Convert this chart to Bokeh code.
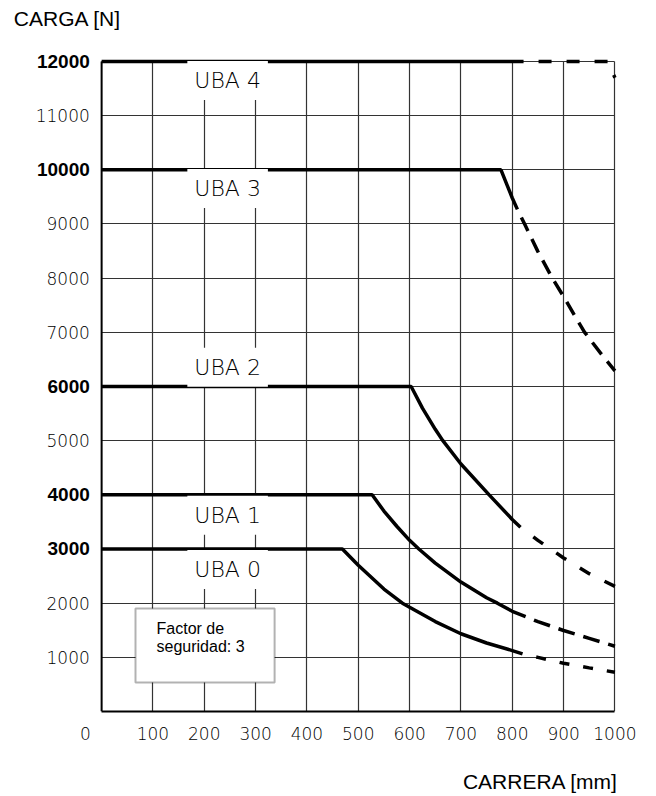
from bokeh.plotting import figure
from bokeh.models import (Range1d, FixedTicker, Label, LabelSet, BoxAnnotation, LinearAxis,
                          ColumnDataSource)
from bokeh.core.properties import value
from bokeh.embed import file_html
from bokeh.resources import INLINE

# ---- data: stroke (mm) vs. permissible load (N) -------------------------
stroke_ticks = [100, 200, 300, 400, 500, 600, 700, 800, 900, 1000]
load_ticks_regular = [1000, 2000, 5000, 7000, 8000, 9000, 11000]
load_ticks_bold = [3000, 4000, 6000, 10000, 12000]
load_grid = [1000, 2000, 3000, 4000, 5000, 6000, 7000, 8000, 9000, 10000, 11000, 12000]

uba_names = ["UBA 0", "UBA 1", "UBA 2", "UBA 3", "UBA 4"]

# solid part of each curve
uba0_x = [0, 469, 500, 550, 586, 600, 650, 700, 750, 800, 820]
uba0_y = [3000, 3000, 2700, 2260, 2000, 1925, 1660, 1435, 1265, 1125, 1065]
uba1_x = [0, 527, 550, 575, 600, 618, 650, 700, 750, 771, 800, 826]
uba1_y = [4000, 4000, 3700, 3420, 3160, 3000, 2740, 2390, 2100, 2000, 1850, 1750]
uba2_x = [0, 603, 625, 650, 664, 700, 755, 800, 816]
uba2_y = [6000, 6000, 5600, 5210, 5010, 4570, 4000, 3545, 3400]
uba3_x = [0, 778, 800, 810]
uba3_y = [10000, 10000, 9480, 9270]
uba4_x = [0, 822]
uba4_y = [12000, 12000]

# dashed continuation of each curve
uba0_ext_x = [820, 850, 900, 950, 1000]
uba0_ext_y = [1065, 1000, 890, 805, 725]
uba1_ext_x = [826, 850, 900, 950, 1000]
uba1_ext_y = [1750, 1660, 1495, 1350, 1205]
uba2_ext_x = [816, 850, 900, 950, 1000]
uba2_ext_y = [3400, 3160, 2835, 2545, 2310]
uba3_ext_x = [810, 825, 850, 878, 900, 925, 941, 975, 1000]
uba3_ext_y = [9270, 8980, 8490, 8000, 7660, 7250, 7000, 6580, 6290]
uba4_ext_x = [822, 986, 1000]
uba4_ext_y = [12000, 12000, 11700]

THIN = "DejaVu Sans Light"
SANS = "Liberation Sans"

# the frame reaches the left and top edges so the load scale and its
# title can be drawn as annotations; grids are bounded to the chart area
p = figure(width=656, height=796, title=None,
           x_range=Range1d(-197, 1005), y_range=Range1d(0, 13126),
           output_backend="svg", toolbar_location=None,
           min_border_left=0, min_border_right=39,
           min_border_top=0, min_border_bottom=85,
           outline_line_color=None,
           background_fill_color="white", border_fill_color="white")

# stroke axis (also carries the origin label)
xax = p.xaxis[0]
xax.ticker = FixedTicker(ticks=[0] + stroke_ticks)
xax.major_label_overrides = {0: "0\u2007\u2007\u2007"}
xax.bounds = (0, stroke_ticks[-1])
xax.major_tick_in = 0
xax.major_tick_out = 0
xax.minor_tick_line_color = None
xax.axis_line_width = 2
xax.axis_line_color = "black"
xax.major_label_text_font = THIN
xax.major_label_text_font_size = "17px"
xax.major_label_text_color = "black"
xax.major_label_standoff = 12

# stroke axis title, set under the right end of the scale
title_pos = 855
title_axis = LinearAxis(ticker=FixedTicker(ticks=[title_pos]),
                        major_label_overrides={title_pos: "CARRERA [mm]"},
                        axis_line_color=None, major_tick_in=0, major_tick_out=0,
                        minor_tick_line_color=None, major_label_standoff=23,
                        major_label_text_font=SANS, major_label_text_font_size="21px",
                        major_label_text_font_style="normal", major_label_text_color="black")
p.add_layout(title_axis, "below")

p.yaxis.visible = False

# grid
p.xgrid.ticker = FixedTicker(ticks=stroke_ticks)
p.xgrid.cross_bounds = (0, load_grid[-1])
p.ygrid.ticker = FixedTicker(ticks=load_grid)
p.ygrid.cross_bounds = (0, stroke_ticks[-1])
for g in (p.xgrid[0], p.ygrid[0]):
    g.grid_line_color = "#333333"
    g.grid_line_width = 1.2

# load axis line
p.line([0, 0], [0, load_grid[-1]], line_color="black", line_width=2)

# load scale: light and bold values
reg_src = ColumnDataSource(dict(y=load_ticks_regular, text=[str(v) for v in load_ticks_regular]))
bold_src = ColumnDataSource(dict(y=load_ticks_bold, text=[str(v) for v in load_ticks_bold]))
p.add_layout(LabelSet(x=-23, y="y", text="text", source=reg_src,
                      text_font=value(THIN), text_font_size=value("17px"),
                      text_color="black", text_align="right", text_baseline="middle"))
p.add_layout(LabelSet(x=-23, y="y", text="text", source=bold_src,
                      text_font=value(SANS), text_font_style="bold",
                      text_font_size=value("19px"),
                      text_color="black", text_align="right", text_baseline="middle"))

# curves
solid = [(uba0_x, uba0_y), (uba1_x, uba1_y), (uba2_x, uba2_y), (uba3_x, uba3_y), (uba4_x, uba4_y)]
dashed = [(uba0_ext_x, uba0_ext_y, "10 14"), (uba1_ext_x, uba1_ext_y, "17 9"),
          (uba2_ext_x, uba2_ext_y, "12 16"), (uba3_ext_x, uba3_ext_y, "15 9"),
          (uba4_ext_x, uba4_ext_y, "13 15")]
for xs, ys in solid:
    p.line(xs, ys, line_color="black", line_width=3.5)
for xs, ys, dash in dashed:
    p.line(xs, ys, line_color="black", line_width=3.5, line_dash=dash,
           line_dash_offset=int(dash.split()[0]))

# curve names, on a white patch that interrupts the grid
uba_label_y = [2622, 3624, 6357, 9655, 11649]
for name, ly in zip(uba_names, uba_label_y):
    p.add_layout(Label(x=167, y=ly, text=name, text_font=THIN, text_font_size="22px",
                       text_color="black", text_align="left", text_baseline="middle",
                       background_fill_color="white", background_fill_alpha=1.0,
                       padding=7))

# load axis title
p.add_layout(Label(x=-171, y=12794, text="CARGA [N]", text_font=SANS, text_font_size="21px",
                   text_color="black", text_align="left", text_baseline="middle"))

# safety-factor note
p.add_layout(BoxAnnotation(left=66, right=337, bottom=535, top=1901,
                           fill_color="white", fill_alpha=1.0,
                           line_color="black", line_width=2))
p.add_layout(Label(x=107, y=1532, text="Factor de", text_font=SANS, text_font_size="16px",
                   text_color="black", text_align="left", text_baseline="middle"))
p.add_layout(Label(x=107, y=1200, text="seguridad: 3", text_font=SANS, text_font_size="16px",
                   text_color="black", text_align="left", text_baseline="middle"))

open("out.html", "w").write(file_html(p, INLINE))
